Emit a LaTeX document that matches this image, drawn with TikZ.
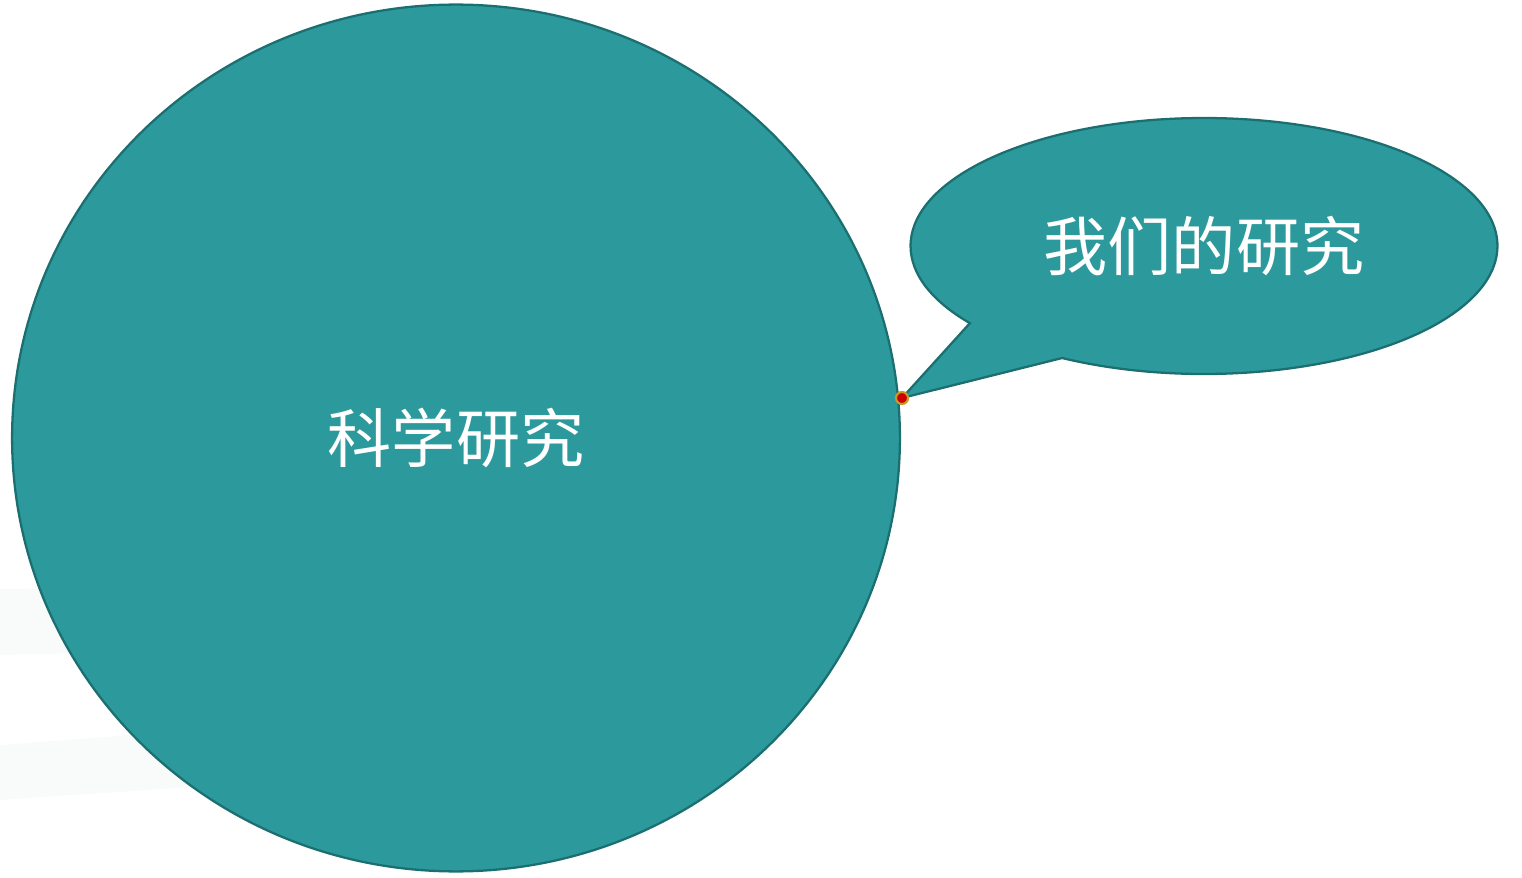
\documentclass[tikz,border=0pt]{standalone}
\usepackage{fontspec}
\newfontfamily\cjk{Noto Sans CJK SC}
\usetikzlibrary{shapes.geometric,shapes.callouts,positioning}
\definecolor{tealfill}{HTML}{2C9A9C}
\definecolor{tealline}{HTML}{1C6F71}
\definecolor{dotred}{HTML}{CC0000}
\definecolor{dotgold}{HTML}{C89B1E}
\definecolor{faint}{HTML}{F9FBFB}
\tikzstyle{bigtopic}=[draw=tealline,fill=tealfill,ellipse,line width=1.3pt,inner sep=0pt,outer sep=0pt,
  minimum width=17.76cm,minimum height=17.34cm,text=white,font=\cjk\fontsize{36.5}{40}\selectfont]
\tikzstyle{saybubble}=[draw=tealline,fill=tealfill,ellipse callout,line width=1.3pt,inner sep=0pt,outer sep=0pt,
  minimum width=11.74cm,minimum height=5.12cm,callout pointer arc=24,text=white,font=\cjk\fontsize{36.5}{40}\selectfont]
\tikzstyle{tipdot}=[circle,fill=dotred,draw=dotgold,line width=1.2pt,minimum size=0.24cm,inner sep=0pt]

\begin{document}
\begin{tikzpicture}[x=0.02cm,y=-0.02cm]
    \useasboundingbox (0,0) rectangle (1522,878);
    % faint bands behind
    \fill [faint] (0,589) -- (300,582) -- (300,648) -- (0,655) -- cycle;
    \fill [faint] (0,745) -- (300,722) -- (300,780) -- (0,800) -- cycle;
    \node [bigtopic] (science) at (456,438) {\raisebox{-0.12cm}{科学研究}};
    \coordinate (tip) at (902,398);
    \node [saybubble,callout absolute pointer={(tip)}] (ours) at (1204,246) {\raisebox{-0.06cm}{我们的研究}};
    \node [tipdot] (dot) at (tip) {};
\end{tikzpicture}
\end{document}
